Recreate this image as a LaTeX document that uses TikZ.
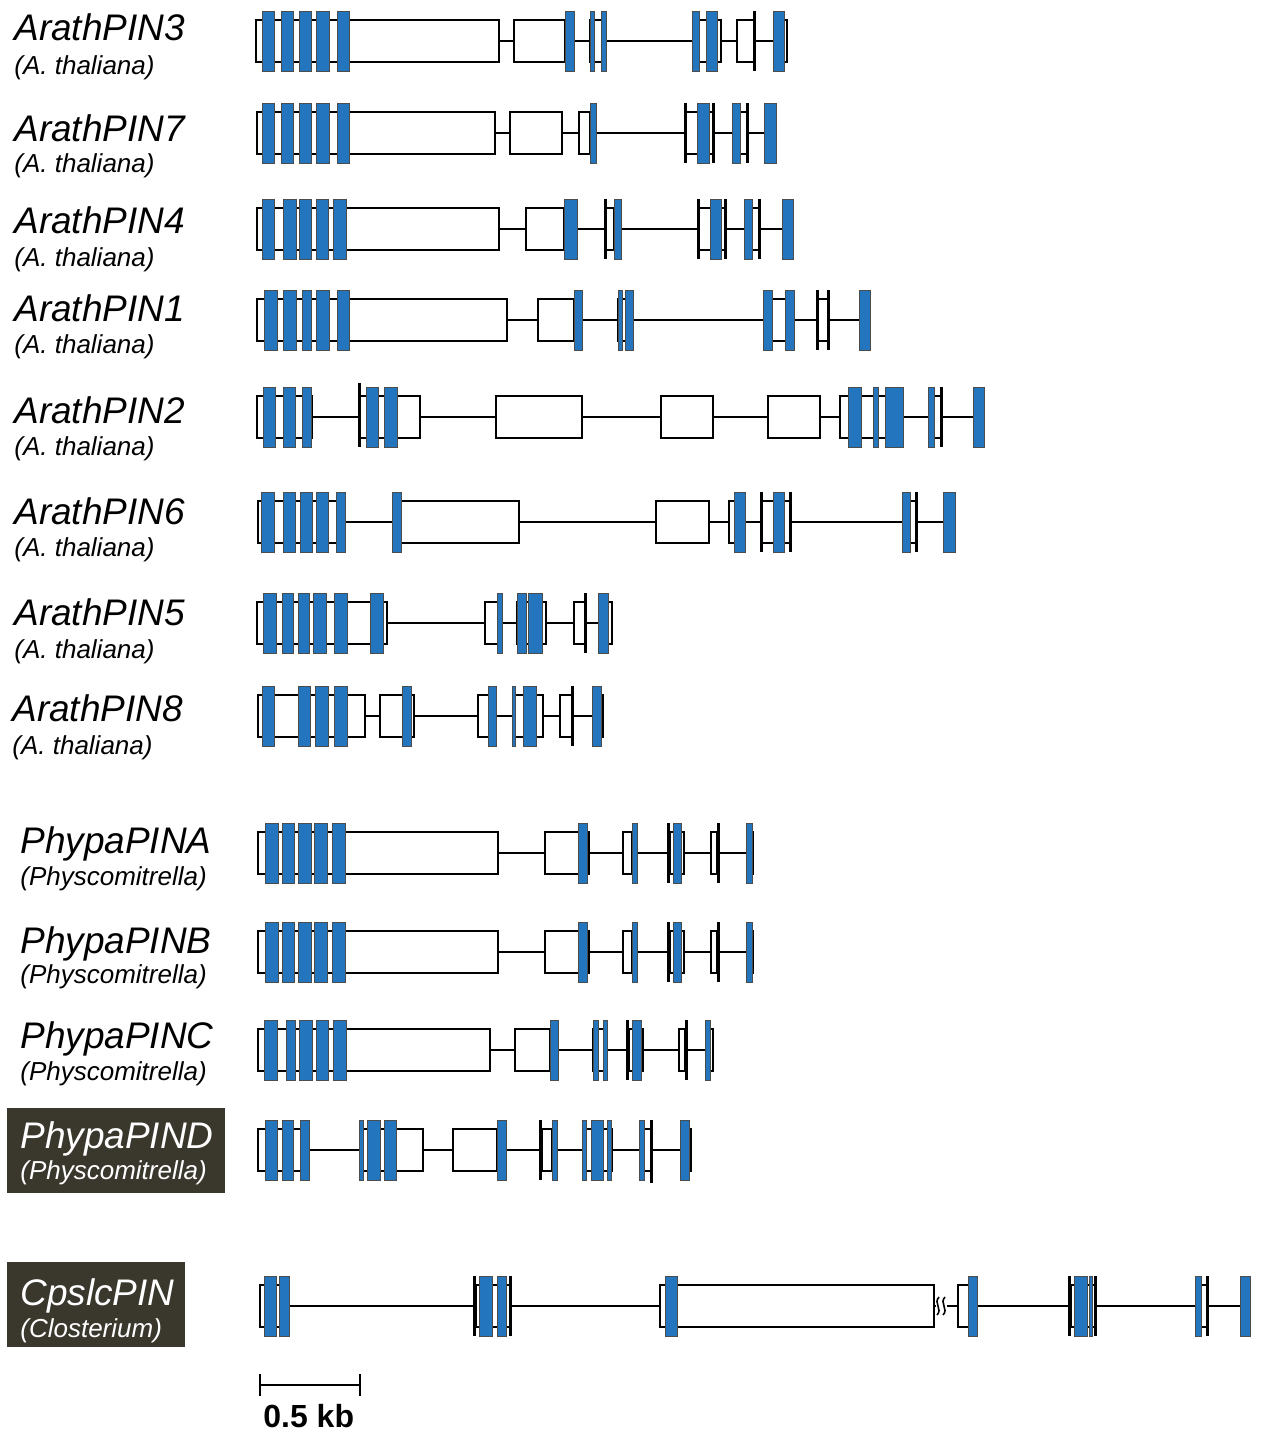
\documentclass[tikz,border=0pt]{standalone}
\usepackage{fontspec}
\setmainfont{Liberation Sans}
\definecolor{exonblue}{RGB}{35,118,190}
\definecolor{labelbg}{RGB}{58,55,45}
\tikzset{
 intronline/.style={line width=1pt, black},
 utrbox/.style={draw=black, fill=white, line width=1pt},
 exonbox/.style={draw=black!70, fill=exonblue, line width=0.5pt},
 gbarline/.style={line width=1.5pt, black},
 genename/.style={anchor=base west, inner sep=0pt, font=\fontsize{18.5}{20}\selectfont\itshape},
 species/.style={anchor=base west, inner sep=0pt, font=\fontsize{13}{15}\selectfont\itshape},
 darklabel/.style={fill=labelbg, draw=none},
}
\newcommand\GIntr[2]{\draw[intronline] (#1,0) -- (#2,0);}
\newcommand\GUtr[2]{\draw[utrbox] (#1,-21) rectangle (#2,21);}
\newcommand\GExon[2]{\draw[exonbox] (#1,-30) rectangle (#2,30);}
\newcommand\GExons[1]{\foreach \ea/\eb in {#1} {\draw[exonbox] (\ea,-30) rectangle (\eb,30);}}
\newcommand\GBar[1]{\draw[gbarline] (#1,-30) -- (#1,30);}
\begin{document}
\begin{tikzpicture}[x=0.5pt,y=-0.5pt]
\useasboundingbox (0,0) rectangle (1260,1431);

% ---------- labels ----------
\node[genename] (n1) at (14,40) {ArathPIN3};
\node[species] (s1) at (14,74) {(A. thaliana)};
\node[genename] (n2) at (14,141) {ArathPIN7};
\node[species] (s2) at (14,172) {(A. thaliana)};
\node[genename] (n3) at (14,233) {ArathPIN4};
\node[species] (s3) at (14,266) {(A. thaliana)};
\node[genename] (n4) at (14,321) {ArathPIN1};
\node[species] (s4) at (14,353) {(A. thaliana)};
\node[genename] (n5) at (14,423) {ArathPIN2};
\node[species] (s5) at (14,455) {(A. thaliana)};
\node[genename] (n6) at (14,524) {ArathPIN6};
\node[species] (s6) at (14,556) {(A. thaliana)};
\node[genename] (n7) at (14,625) {ArathPIN5};
\node[species] (s7) at (14,658) {(A. thaliana)};
\node[genename] (n8) at (12,721) {ArathPIN8};
\node[species] (s8) at (12,754) {(A. thaliana)};
\node[genename] (n9) at (20,853) {PhypaPINA};
\node[species] (s9) at (20,885) {(Physcomitrella)};
\node[genename] (n10) at (20,953) {PhypaPINB};
\node[species] (s10) at (20,983) {(Physcomitrella)};
\node[genename] (n11) at (20,1048) {PhypaPINC};
\node[species] (s11) at (20,1080) {(Physcomitrella)};
\fill[darklabel] (7,1108) rectangle (225,1193);
\node[genename, text=white] (n12) at (20,1148) {PhypaPIND};
\node[species, text=white] (s12) at (20,1179) {(Physcomitrella)};
\fill[darklabel] (7,1262) rectangle (185,1347);
\node[genename, text=white] (n13) at (20,1305) {CpslcPIN};
\node[species, text=white] (s13) at (20,1337) {(Closterium)};

% ---------- ArathPIN3 ----------
\begin{scope}[shift={(0,41)}]
\GIntr{256}{784}
\GUtr{256}{499}
\GExons{262/274,281/293,299/311,316/329,337/349}
\GUtr{514}{565}
\GExon{565}{574}
\GUtr{590}{604}
\GExons{590/594,601/606}
\GUtr{699}{721}
\GExons{692/699,706/717}
\GUtr{737}{754}
\GBar{754}
\GUtr{780}{787}
\GExon{773}{784}
\end{scope}

% ---------- ArathPIN7 ----------
\begin{scope}[shift={(0,133)}]
\GIntr{257}{776}
\GUtr{257}{495}
\GExons{262/274,281/293,299/311,316/329,337/349}
\GUtr{510}{562}
\GUtr{579}{590}
\GExon{590}{596}
\GBar{685}
\GUtr{686}{714}
\GExon{697}{709}
\GBar{713}
\GUtr{740}{747}
\GExon{732}{740}
\GBar{747}
\GExon{764}{776}
\end{scope}

% ---------- ArathPIN4 ----------
\begin{scope}[shift={(0,229)}]
\GIntr{257}{793}
\GUtr{257}{499}
\GExons{262/274,283/296,299/311,316/328,333/346}
\GUtr{526}{564}
\GExon{564}{577}
\GBar{605}
\GUtr{606}{614}
\GExon{614}{621}
\GBar{698}
\GUtr{699}{725}
\GExon{710}{721}
\GBar{725.5}
\GUtr{752}{760}
\GExon{744}{752}
\GBar{759}
\GExon{782}{793}
\end{scope}

% ---------- ArathPIN1 ----------
\begin{scope}[shift={(0,320)}]
\GIntr{257}{870}
\GUtr{257}{507}
\GExons{264/277,283/296,302/311,316/329,337/349}
\GUtr{538}{574}
\GExon{574}{582}
\GUtr{618}{630}
\GExons{618/622,625/633}
\GUtr{772}{786}
\GExons{763/772,785/794}
\GBar{817}
\GUtr{818}{828}
\GBar{828.5}
\GExon{859}{870}
\end{scope}

% ---------- ArathPIN2 ----------
\begin{scope}[shift={(0,417)}]
\GIntr{257}{984}
\GUtr{257}{312}
\GExons{263/275,283/295,302/311}
\GUtr{360}{420}
\GExons{366/378,384/397}
\draw[gbarline] (359,-34) -- (359,30);
\GUtr{496}{582}
\GUtr{661}{713}
\GUtr{768}{820}
\GUtr{840}{903}
\GExons{848/861,873/878,885/903}
\GUtr{934}{941}
\GExon{928}{934}
\GBar{941}
\GExon{973}{984}
\end{scope}

% ---------- ArathPIN6 ----------
\begin{scope}[shift={(0,522)}]
\GIntr{258}{955}
\GUtr{258}{342}
\GExons{261/274,283/295,300/312,316/328,336/345}
\GUtr{401}{519}
\GExon{392}{401}
\GUtr{656}{709}
\GUtr{729}{745}
\GExon{734}{745}
\GBar{761}
\GUtr{762}{790}
\GExon{773}{784}
\GBar{790}
\GUtr{910}{916}
\GExon{902}{910}
\GBar{916}
\GExon{943}{955}
\end{scope}

% ---------- ArathPIN5 ----------
\begin{scope}[shift={(0,623)}]
\GIntr{257}{612}
\GUtr{257}{387}
\GExons{263/276,282/293,298/309,313/326,334/347,370/383}
\GUtr{485}{502}
\GExon{497}{502}
\GUtr{517}{546}
\GExons{517/526,528/542}
\GUtr{574}{585}
\GBar{585.5}
\GUtr{600}{612}
\GExon{598}{608}
\end{scope}

% ---------- ArathPIN8 ----------
\begin{scope}[shift={(0,716)}]
\GIntr{258}{603}
\GUtr{258}{365}
\GExons{262/274,298/310,315/328,334/347}
\GUtr{380}{414}
\GExon{402}{411}
\GUtr{478}{495}
\GExon{488}{496}
\GUtr{515}{543}
\GExons{512/515,523/536}
\GUtr{560}{572}
\GBar{572}
\GUtr{595}{603}
\GExon{592}{601}
\end{scope}

% ---------- PhypaPINA / PhypaPINB ----------
\foreach \yy in {853,952}{
\begin{scope}[shift={(0,\yy)}]
\GIntr{258}{753}
\GUtr{258}{498}
\GExons{265/278,282/294,298/311,314/327,332/345}
\GUtr{545}{589}
\GExon{578}{587}
\GUtr{623}{632}
\GExon{632}{637}
\GBar{668}
\GUtr{670}{684}
\GExon{673}{681}
\GUtr{711}{717}
\GBar{718}
\GUtr{748}{753}
\GExon{746}{752}
\end{scope}
}

% ---------- PhypaPINC ----------
\begin{scope}[shift={(0,1050)}]
\GIntr{258}{713}
\GUtr{258}{490}
\GExons{264/277,286/295,299/312,316/328,333/346}
\GUtr{515}{550}
\GExon{550}{558}
\GUtr{593}{607}
\GExons{593/598,603/607}
\GBar{627}
\GUtr{629}{643}
\GExon{632}{641}
\GUtr{679}{685}
\GBar{686}
\GUtr{707}{713}
\GExon{705}{710}
\end{scope}

% ---------- PhypaPIND ----------
\begin{scope}[shift={(0,1150)}]
\GIntr{258}{691}
\GUtr{258}{309}
\GExons{265/277,282/293,300/309}
\GUtr{363}{423}
\GExons{359/363,367/380,384/396}
\GUtr{453}{497}
\GExon{497}{506}
\GBar{540}
\GUtr{542}{552}
\GExon{552}{557}
\GUtr{586}{612}
\GExons{582/586,591/603,607/611}
\GUtr{644}{651}
\GExon{639}{644}
\draw[gbarline] (651,-30) -- (651,33);
\GUtr{686}{691}
\GExon{680}{689}
\end{scope}

% ---------- CpslcPIN ----------
\begin{scope}[shift={(0,1306)}]
\GIntr{260}{1250}
\GUtr{260}{289}
\GExons{264/276,279/289}
\GBar{474}
\GUtr{476}{510}
\GExons{479/492,497/506}
\GBar{510}
\GUtr{660}{934}
\GExon{665}{677}
\fill[white] (936,-10) rectangle (947,10);
\draw[line width=0.8pt] (939,-9) .. controls (933,-3) and (943,3) .. (937,9);
\draw[line width=0.8pt] (945,-9) .. controls (939,-3) and (949,3) .. (943,9);
\GUtr{958}{969}
\GExon{968}{977}
\GBar{1069}
\GUtr{1071}{1095}
\GExons{1074/1087,1089/1092}
\GBar{1095}
\GUtr{1201}{1207}
\GExon{1195}{1201}
\GBar{1207}
\GExon{1240}{1250}
\end{scope}

% ---------- scale bar ----------
\coordinate (sbL) at (260,1385);
\coordinate (sbR) at (360,1385);
\draw[line width=1.3pt] (sbL) -- (sbR);
\draw[line width=1pt] (260,1374) -- (260,1396);
\draw[line width=1pt] (360,1374) -- (360,1396);
\node[anchor=base west, inner sep=0pt, font=\fontsize{16}{18}\selectfont\bfseries] (sbt) at (263,1427) {0.5 kb};
\end{tikzpicture}
\end{document}
